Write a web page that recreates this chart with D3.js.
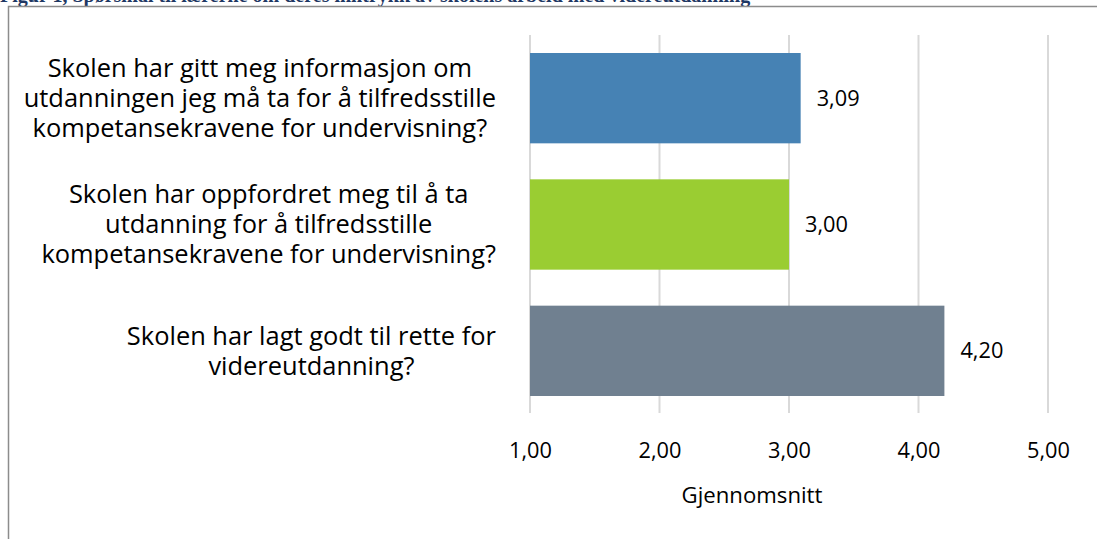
<!DOCTYPE html>
<html>
<head>
<meta charset="utf-8">
<script src="https://cdn.jsdelivr.net/npm/d3@7"></script>
<style>
  body { margin: 0; background: #fff; overflow: hidden; }
  text { font-family: "Open Sans", "Noto Sans", sans-serif; }
</style>
</head>
<body>
<script>
const width = 1097
const height = 539

// data
const questions = [
  ["Skolen har gitt meg informasjon om", "utdanningen jeg må ta for å tilfredsstille", "kompetansekravene for undervisning?"],
  ["Skolen har oppfordret meg til å ta", "utdanning for å tilfredsstille", "kompetansekravene for undervisning?"],
  ["Skolen har lagt godt til rette for", "videreutdanning?"]
]
const values = [3.09, 3.00, 4.20]
const colors = ["#4682B4", "#9ACD32", "#708090"]
const ticks = [1, 2, 3, 4, 5]
const title = "Figur 1, Spørsmål til lærerne om deres inntrykk av skolens arbeid med videreutdanning"
const axisTitle = "Gjennomsnitt"

const fmt = d => d.toFixed(2).replace(".", ",")

const svg = d3.select("body").append("svg")
    .attr("width", width)
    .attr("height", height)

// font size that makes a string a given width
const fitSize = (str, target, base) => {
    const t = svg.append("text").style("font-size", base + "px").text(str)
    const w = t.node().getComputedTextLength()
    t.remove()
    return base * target / w
}
const labelSize = fitSize("kompetansekravene for undervisning?", 455, 24)
const numSize = fitSize("1,00", 43, 23)
const titleSize = fitSize(axisTitle, 141, 22)

// caption, cut off by the top edge like in the source
svg.append("text")
    .attr("x", 0)
    .attr("y", 2)
    .style("font-family", "'Liberation Serif', serif")
    .style("font-weight", "bold")
    .style("font-size", "20px")
    .attr("fill", "#1F3864")
    .text(title)

// frame
svg.append("path")
    .attr("d", `M8.5,${height + 2} V6.5 H${width + 2}`)
    .attr("fill", "none")
    .attr("stroke", "#8c8c8c")
    .attr("stroke-width", 1.5)

const x = d3.scaleLinear()
    .domain([1, 5])
    .range([530, 1048])

const y = d3.scaleBand()
    .domain(d3.range(values.length))
    .range([35, 414])
    .paddingInner(0.285)
    .paddingOuter(0.1425)

// gridlines
svg.append("g")
    .selectAll("line")
    .data(ticks)
    .join("line")
    .attr("x1", d => x(d))
    .attr("x2", d => x(d))
    .attr("y1", 35)
    .attr("y2", 413)
    .attr("stroke", "#d9d9d9")
    .attr("stroke-width", 2)

// bars
svg.append("g")
    .selectAll("rect")
    .data(values)
    .join("rect")
    .attr("x", x(1))
    .attr("y", (d, i) => y(i))
    .attr("width", d => x(d) - x(1))
    .attr("height", y.bandwidth())
    .attr("fill", (d, i) => colors[i])

// value labels
svg.append("g")
    .selectAll("text")
    .data(values)
    .join("text")
    .attr("x", d => x(d) + 16)
    .attr("y", (d, i) => y(i) + y.bandwidth() / 2)
    .attr("dy", "0.35em")
    .style("font-size", numSize + "px")
    .attr("fill", "#000")
    .text(fmt)

// tick labels
const axis = d3.axisBottom(x)
    .tickValues(ticks)
    .tickFormat(fmt)
    .tickSize(0)
    .tickPadding(0)

const ax = svg.append("g")
    .attr("transform", "translate(0,443)")
    .call(axis)
ax.select(".domain").remove()
ax.selectAll("text")
    .style("font-size", numSize + "px")
    .style("font-family", "'Open Sans', sans-serif")
    .attr("fill", "#000")

svg.append("text")
    .attr("x", 752)
    .attr("y", 503)
    .attr("text-anchor", "middle")
    .style("font-size", titleSize + "px")
    .attr("fill", "#000")
    .text(axisTitle)

// category labels: lines centred inside a right-aligned block
const lineH = 30
const blockRight = 496
questions.forEach((lines, i) => {
    const g = svg.append("g")
    const cy = y(i) + y.bandwidth() / 2
    const top = cy - (lines.length - 1) * lineH / 2
    const t = g.selectAll("text")
        .data(lines)
        .join("text")
        .attr("y", (d, j) => top + j * lineH)
        .attr("dy", "0.35em")
        .attr("text-anchor", "middle")
        .style("font-size", labelSize + "px")
        .attr("fill", "#000")
        .text(d => d)
    let maxW = 0
    t.each(function() { maxW = Math.max(maxW, this.getComputedTextLength()) })
    t.attr("x", blockRight - maxW / 2)
})
</script>
</body>
</html>
